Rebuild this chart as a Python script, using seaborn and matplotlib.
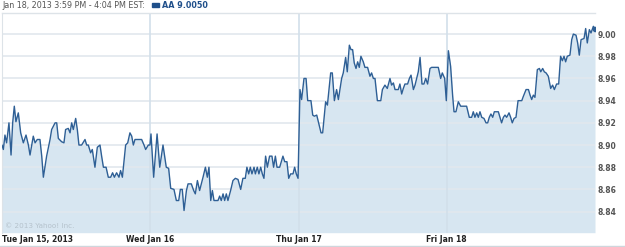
import numpy as np
import pandas as pd
import matplotlib
matplotlib.use("Agg")
import matplotlib.pyplot as plt
import seaborn as sns

# ---- data (time in trading days since Tue open, price) ----
t_tue = [0.0, 0.009, 0.020, 0.031, 0.047, 0.061, 0.072, 0.083, 0.094, 0.110, 0.126, 0.144, 0.162, 0.178, 0.189,
         0.211, 0.223, 0.238, 0.256, 0.268, 0.279, 0.301, 0.324, 0.335, 0.358, 0.369, 0.380, 0.402, 0.418,
         0.429, 0.447, 0.459, 0.470, 0.481, 0.497, 0.508, 0.519, 0.537, 0.560, 0.571, 0.582, 0.598, 0.609,
         0.627, 0.643, 0.661, 0.672, 0.684, 0.702, 0.717, 0.733, 0.746, 0.758, 0.773, 0.789, 0.800, 0.812,
         0.834, 0.848, 0.863, 0.875, 0.886, 0.897, 0.942, 0.958, 0.969, 0.987, 0.998]
p_tue = [8.900, 8.896, 8.909, 8.902, 8.920, 8.891, 8.920, 8.935, 8.921, 8.929, 8.911, 8.902, 8.909, 8.900, 8.891,
         8.908, 8.902, 8.905, 8.905, 8.890, 8.871, 8.890, 8.905, 8.914, 8.920, 8.920, 8.906, 8.903, 8.902,
         8.914, 8.915, 8.911, 8.920, 8.914, 8.924, 8.914, 8.900, 8.900, 8.905, 8.900, 8.900, 8.893, 8.896,
         8.880, 8.898, 8.900, 8.890, 8.880, 8.880, 8.871, 8.871, 8.875, 8.871, 8.875, 8.871, 8.877, 8.871,
         8.900, 8.902, 8.911, 8.908, 8.900, 8.905, 8.905, 8.900, 8.896, 8.900, 8.900]

t_wed = [1.005, 1.023, 1.046, 1.064, 1.086, 1.108, 1.124, 1.138, 1.160, 1.176, 1.192, 1.203, 1.216, 1.228,
         1.244, 1.255, 1.277, 1.293, 1.304, 1.318, 1.333, 1.356, 1.372, 1.385, 1.396, 1.408, 1.419, 1.430,
         1.457, 1.468, 1.479, 1.491, 1.502, 1.513, 1.524, 1.542, 1.558, 1.574, 1.592, 1.610, 1.625, 1.641,
         1.652, 1.664, 1.675, 1.686, 1.700, 1.709, 1.722, 1.733, 1.745, 1.756, 1.767, 1.778, 1.790, 1.805,
         1.821, 1.832, 1.844, 1.855, 1.873, 1.895, 1.907, 1.922, 1.934, 1.947, 1.963, 1.974, 1.985, 1.997]
p_wed = [8.910, 8.871, 8.910, 8.880, 8.900, 8.880, 8.879, 8.861, 8.860, 8.850, 8.850, 8.860, 8.860, 8.841,
         8.859, 8.865, 8.865, 8.859, 8.856, 8.868, 8.859, 8.871, 8.880, 8.871, 8.880, 8.850, 8.859, 8.850,
         8.850, 8.854, 8.850, 8.856, 8.850, 8.856, 8.850, 8.859, 8.868, 8.870, 8.869, 8.860, 8.870, 8.870,
         8.880, 8.874, 8.880, 8.874, 8.880, 8.874, 8.880, 8.874, 8.880, 8.874, 8.870, 8.890, 8.880, 8.890,
         8.890, 8.880, 8.890, 8.880, 8.880, 8.890, 8.885, 8.885, 8.870, 8.874, 8.874, 8.880, 8.874, 8.870]

t_thu = [2.010, 2.021, 2.037, 2.051, 2.062, 2.084, 2.096, 2.107, 2.123, 2.134, 2.152, 2.163, 2.183, 2.195,
         2.217, 2.228, 2.242, 2.257, 2.269, 2.291, 2.302, 2.318, 2.329, 2.343, 2.354, 2.365, 2.376, 2.388,
         2.399, 2.410, 2.421, 2.437, 2.448, 2.466, 2.482, 2.493, 2.505, 2.516, 2.532, 2.555, 2.566, 2.583,
         2.599, 2.617, 2.628, 2.640, 2.651, 2.673, 2.684, 2.696, 2.707, 2.718, 2.736, 2.748, 2.759, 2.775,
         2.786, 2.808, 2.820, 2.833, 2.846, 2.858, 2.871, 2.887, 2.898, 2.943, 2.959, 2.970, 2.986, 2.997]
p_thu = [8.950, 8.941, 8.960, 8.960, 8.940, 8.940, 8.927, 8.926, 8.927, 8.921, 8.911, 8.911, 8.939, 8.936,
         8.965, 8.965, 8.940, 8.950, 8.941, 8.960, 8.965, 8.979, 8.966, 8.990, 8.986, 8.986, 8.974, 8.969,
         8.975, 8.970, 8.980, 8.975, 8.970, 8.970, 8.962, 8.965, 8.960, 8.960, 8.940, 8.940, 8.950, 8.954,
         8.951, 8.960, 8.954, 8.956, 8.950, 8.950, 8.955, 8.946, 8.951, 8.955, 8.955, 8.960, 8.963, 8.950,
         8.954, 8.966, 8.979, 8.955, 8.955, 8.960, 8.955, 8.969, 8.970, 8.970, 8.960, 8.965, 8.960, 8.940]

t_fri = [3.011, 3.026, 3.040, 3.049, 3.062, 3.078, 3.094, 3.134, 3.152, 3.168, 3.179, 3.190, 3.202, 3.213,
         3.224, 3.236, 3.251, 3.265, 3.276, 3.287, 3.298, 3.310, 3.321, 3.348, 3.359, 3.370, 3.382, 3.393,
         3.404, 3.420, 3.431, 3.442, 3.454, 3.467, 3.481, 3.506, 3.517, 3.535, 3.551, 3.562, 3.573, 3.584,
         3.595, 3.611, 3.625, 3.634, 3.647, 3.658, 3.670, 3.685, 3.701, 3.714, 3.726, 3.741, 3.755, 3.768,
         3.780, 3.791, 3.802, 3.813, 3.831, 3.843, 3.854, 3.872, 3.883, 3.894, 3.906, 3.926, 3.937, 3.948,
         3.962, 3.973, 3.989, 4.000]
p_fri = [8.985, 8.971, 8.944, 8.930, 8.930, 8.939, 8.935, 8.935, 8.925, 8.925, 8.930, 8.925, 8.929, 8.925,
         8.930, 8.925, 8.924, 8.920, 8.920, 8.925, 8.928, 8.925, 8.930, 8.930, 8.925, 8.920, 8.925, 8.927,
         8.925, 8.929, 8.925, 8.920, 8.924, 8.925, 8.940, 8.940, 8.944, 8.950, 8.950, 8.945, 8.941, 8.945,
         8.943, 8.968, 8.969, 8.966, 8.969, 8.966, 8.965, 8.962, 8.951, 8.954, 8.950, 8.955, 8.955, 8.980,
         8.976, 8.980, 8.975, 8.980, 8.981, 8.995, 9.000, 8.999, 8.992, 8.981, 8.995, 8.996, 9.005, 8.992,
         9.004, 9.001, 9.007, 9.005]

day_positions = [0, 1, 2, 3]
day_labels = ["Tue Jan 15, 2013", "Wed Jan 16", "Thu Jan 17", "Fri Jan 18"]
y_ticks = [8.84, 8.86, 8.88, 8.90, 8.92, 8.94, 8.96, 8.98, 9.00]
title_text = "Jan 18, 2013 3:59 PM - 4:04 PM EST:"
legend_text = "AA 9.0050"

df = pd.DataFrame({
    "t": t_tue + t_wed + t_thu + t_fri,
    "price": p_tue + p_wed + p_thu + p_fri,
})

# ---- figure ----
sns.set_style("white")
plt.rcParams["font.family"] = ["DejaVu Sans"]

W, H = 625, 247
fig = plt.figure(figsize=(W / 100, H / 100), dpi=100)
ax = fig.add_axes([2 / W, 1 - 232.7 / H, (595 - 2) / W, (232.7 - 13) / H])

ymin, ymax = 8.821, 9.019
line_c = "#2e5f95"
fill_c = "#d7e6f1"
grid_c = "#e1e8ee"

ax.fill_between(df["t"], df["price"], ymin, color=fill_c, lw=0, zorder=1)
sns.lineplot(data=df, x="t", y="price", ax=ax, color=line_c, lw=1.0, zorder=3)
ax.plot([df["t"].iloc[-1]], [df["price"].iloc[-1]], "o", color=line_c, ms=3, zorder=4)

for y in y_ticks:
    ax.axhline(y, color=grid_c, lw=1.2, zorder=2)
for x in day_positions[1:]:
    ax.axvline(x, color="#d2dfea", lw=1.2, zorder=2)

ax.set_xlim(0, 4)
ax.set_ylim(ymin, ymax)
ax.set_xlabel("")
ax.set_ylabel("")

ax.yaxis.tick_right()
ax.set_yticks(y_ticks)
ax.set_yticklabels([f"{v:.2f}" for v in y_ticks], fontsize=5.5, fontweight="bold", color="#555555")
ax.tick_params(axis="y", length=0, pad=2)

ax.set_xticks(day_positions)
ax.set_xticklabels(day_labels, fontsize=5.5, fontweight="bold", color="#222222")
ax.tick_params(axis="x", length=0, pad=2)
labs = ax.get_xticklabels()
labs[0].set_ha("left")

for side in ["left", "right", "bottom"]:
    ax.spines[side].set_visible(False)
ax.spines["top"].set_color("#dde3e8")
ax.spines["top"].set_linewidth(1)
ax.spines["left"].set_visible(True)
ax.spines["left"].set_color("#dde3e8")

ax.text(3 / 593, 1 - (226 - 13) / 219.7, "\u00a9 2013 Yahoo! Inc.", transform=ax.transAxes,
        fontsize=5.2, color="#b5c2cc", va="center", ha="left")

# header
fig.text(2 / W, 1 - 5.5 / H, title_text, fontsize=5.8, color="#555555", va="center", ha="left")
fig.patches.append(plt.Rectangle((152 / W, 1 - 7 / H), 7 / W, 3.5 / H, transform=fig.transFigure,
                                 color="#1f4f8a", figure=fig))
fig.text(162 / W, 1 - 5.5 / H, legend_text, fontsize=5.8, color="#1f4f8a", fontweight="bold",
         va="center", ha="left")

# bottom rule
fig.add_artist(plt.Line2D([0, 1], [1 - 245.5 / H] * 2, transform=fig.transFigure, color="#cfd6dc", lw=1))

fig.savefig("out.png", dpi=100)
